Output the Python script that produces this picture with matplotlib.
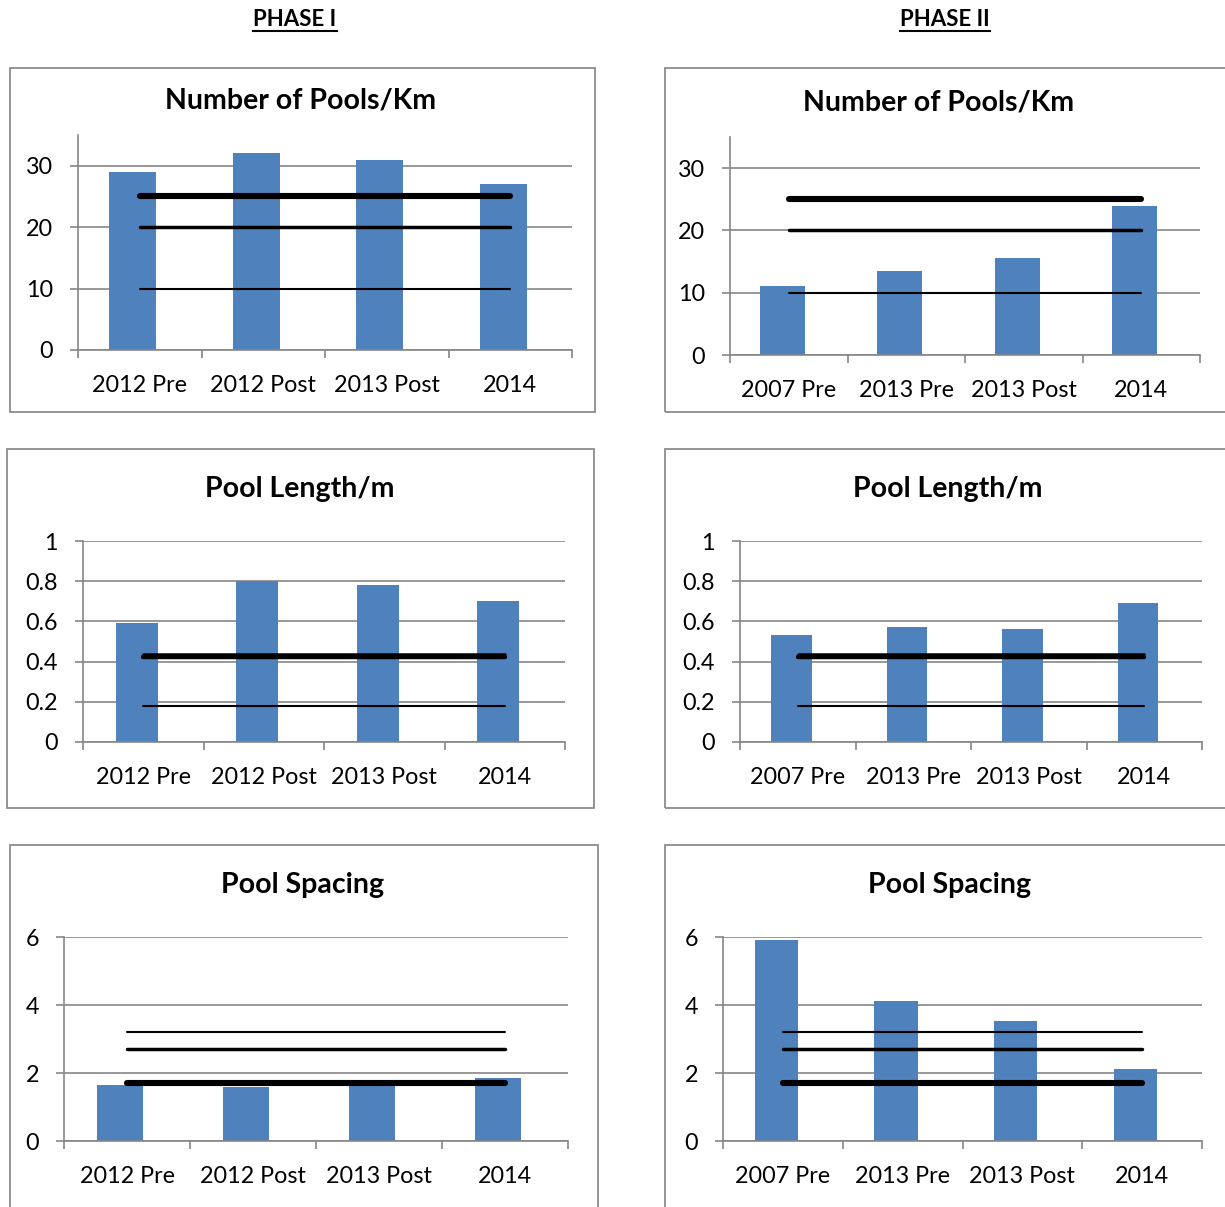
import matplotlib
matplotlib.use("Agg")
import matplotlib.pyplot as plt
from matplotlib.patches import Rectangle
from matplotlib.lines import Line2D

plt.rcParams['font.family'] = ['Lato', 'DejaVu Sans']

# categories
phase1_cats = ['2012 Pre', '2012 Post', '2013 Post', '2014']
phase2_cats = ['2007 Pre', '2013 Pre', '2013 Post', '2014']

# bar values
p1_pools = [29, 32, 31, 27]
p2_pools = [11, 13.5, 15.5, 24]
p1_length = [0.59, 0.80, 0.78, 0.70]
p2_length = [0.53, 0.57, 0.56, 0.69]
p1_spacing = [1.64, 1.58, 1.65, 1.86]
p2_spacing = [5.92, 4.12, 3.52, 2.12]

# reference levels (thick, medium, thin)
pools_refs = [25, 20, 10]
length_refs = [0.425, 0.44, 0.18]
spacing_refs = [1.7, 2.7, 3.2]

pools_ticks = [0, 10, 20, 30]
length_ticks = [0, 0.2, 0.4, 0.6, 0.8, 1]
length_labels = ['0', '0.2', '0.4', '0.6', '0.8', '1']
spacing_ticks = [0, 2, 4, 6]

W, H = 1225, 1207
BAR = '#4F81BD'
GRID = '#868686'
BOX = '#8C8C8C'
WIDE_LW = [4.4, 2.5, 1.5]
NARROW_LW = [3.2, 1.8, 1.5]

fig = plt.figure(figsize=(W / 100, H / 100), dpi=100)


def frac(x, y):
    return x / W, 1 - y / H


def add_box(x0, x1, y0, y1):
    fig.patches.append(Rectangle(frac(x0, y1), (x1 - x0) / W, (y1 - y0) / H,
                                 transform=fig.transFigure, fill=False,
                                 edgecolor=BOX, lw=1.3))


def panel(box, rect, title, title_xy, cats, vals, refs, ymax, ticks,
          labels=None, bar_w=0.38, ref_lw=WIDE_LW):
    add_box(*box)
    left, right, top, bottom = rect
    ax = fig.add_axes([left / W, 1 - bottom / H, (right - left) / W, (bottom - top) / H])
    x = range(len(cats))
    ax.bar([i - 0.055 for i in x], vals, width=bar_w, color=BAR, zorder=2)
    for v, lw in zip(refs, ref_lw):
        ax.plot([0, len(cats) - 1], [v, v], color='black', lw=lw,
                solid_capstyle='round', zorder=3)
    ax.set_xlim(-0.5, len(cats) - 0.5)
    ax.set_ylim(0, ymax)
    ax.set_yticks(ticks)
    if labels is not None:
        ax.set_yticklabels(labels)
    ax.set_xticks(list(x))
    ax.set_xticklabels(cats)
    ax.set_xticks([i - 0.5 for i in range(len(cats) + 1)], minor=True)
    ax.tick_params(axis='x', which='major', length=0, pad=18, labelsize=16.8)
    ax.tick_params(axis='x', which='minor', length=6, width=1.2, color=GRID,
                   direction='out')
    ax.tick_params(axis='y', length=6, width=1.2, color=GRID, pad=12,
                   labelsize=16.8)
    ax.grid(axis='y', color=GRID, lw=1.2, zorder=1)
    ax.set_axisbelow(True)
    for s in ['top', 'right']:
        ax.spines[s].set_visible(False)
    for s in ['left', 'bottom']:
        ax.spines[s].set_color(GRID)
        ax.spines[s].set_linewidth(1.2)
    fig.text(*frac(*title_xy), title, ha='center', va='center',
             fontsize=20.5, fontweight='bold')
    return ax


panel((10, 595, 68, 412), (78, 572, 135, 350), 'Number of Pools/Km', (301, 101),
      phase1_cats, p1_pools, pools_refs, 35, pools_ticks)
panel((665, 1240, 68, 412), (730, 1200, 137, 355), 'Number of Pools/Km', (939, 103),
      phase2_cats, p2_pools, pools_refs, 35, pools_ticks)
panel((7, 594, 449, 808), (83, 565, 541, 742), 'Pool Length/m', (300, 489),
      phase1_cats, p1_length, length_refs, 1, length_ticks, length_labels,
      bar_w=0.35, ref_lw=NARROW_LW)
panel((665, 1240, 449, 808), (740, 1202, 541, 742), 'Pool Length/m', (948, 489),
      phase2_cats, p2_length, length_refs, 1, length_ticks, length_labels,
      bar_w=0.35, ref_lw=NARROW_LW)
panel((10, 598, 845, 1230), (64, 568, 937, 1141), 'Pool Spacing', (303, 885),
      phase1_cats, p1_spacing, spacing_refs, 6, spacing_ticks, bar_w=0.36)
panel((665, 1240, 845, 1230), (723, 1202, 937, 1141), 'Pool Spacing', (950, 885),
      phase2_cats, p2_spacing, spacing_refs, 6, spacing_ticks, bar_w=0.36)

# phase headers, underlined
heads = []
for label, cx in [('PHASE I', 295), ('PHASE II', 945)]:
    heads.append(fig.text(*frac(cx, 19), label, ha='center', va='center',
                          fontsize=16, fontweight='bold'))
fig.canvas.draw()
renderer = fig.canvas.get_renderer()
for t in heads:
    bb = t.get_window_extent(renderer)
    y = bb.y0 - 1
    fig.lines.append(Line2D([bb.x0 / W, bb.x1 / W], [y / H, y / H],
                            transform=fig.transFigure, color='black', lw=1.5))

fig.savefig('out.png', dpi=100)
